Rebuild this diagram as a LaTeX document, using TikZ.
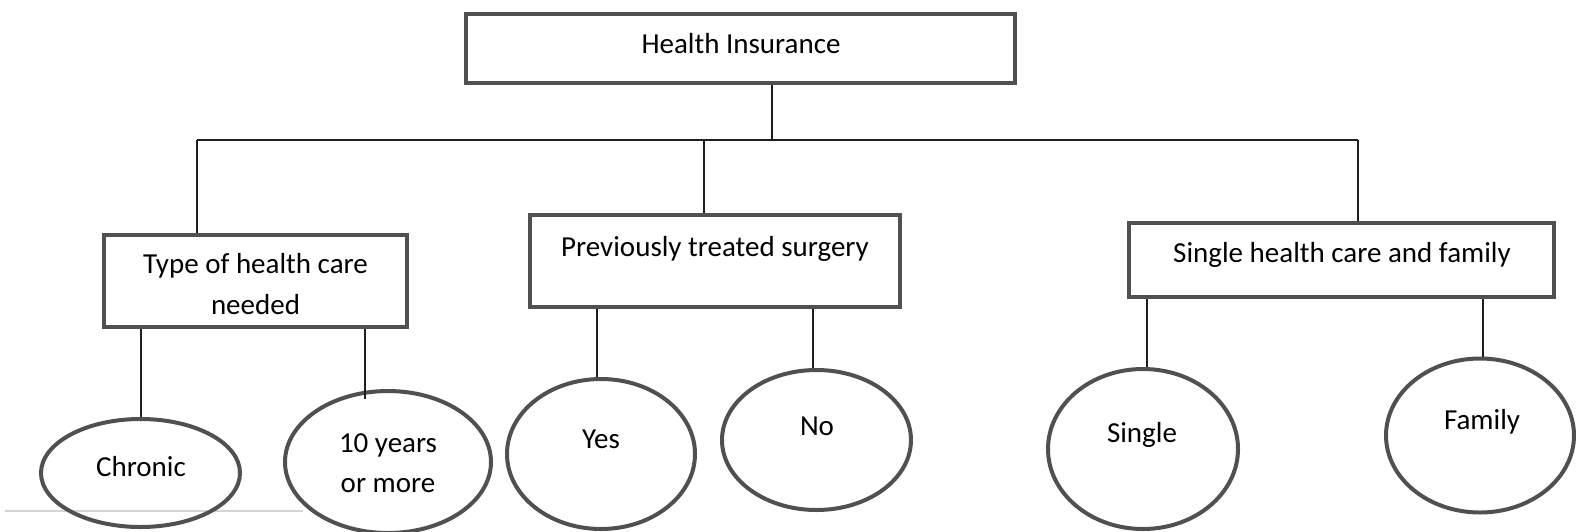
\documentclass[tikz,border=0pt]{standalone}
\usepackage{fontspec}
\setmainfont{Carlito}
\usetikzlibrary{shapes.geometric}
\definecolor{edgegray}{HTML}{505050}
\definecolor{rulegray}{HTML}{D4D4D4}
\definecolor{linkblack}{HTML}{1E1E1E}
\begin{document}
\begin{tikzpicture}[x=1pt,y=1pt,
  box/.style={draw=edgegray, line width=4pt, rectangle, inner sep=0pt},
  oval/.style={draw=edgegray, line width=4pt, ellipse, inner sep=0pt},
  lbl/.style={font=\fontsize{29}{35}\selectfont, inner sep=0pt, anchor=base},
  link/.style={draw=linkblack, line width=1.5pt}]
\useasboundingbox (0,0) rectangle (1576,-531);

% faint rule at the bottom left
\coordinate (ra) at (5,-511);
\coordinate (rb) at (303,-511);
\draw[rulegray, line width=1.2pt] (ra) -- (rb);

% boxes
\node[box, minimum width=549, minimum height=69] (top) at (740.5,-48.5) {};
\node[box, minimum width=303, minimum height=92] (b1) at (255.5,-281) {};
\node[box, minimum width=370, minimum height=92] (b2) at (715,-261) {};
\node[box, minimum width=425, minimum height=74] (b3) at (1341.5,-260) {};

% ovals
\node[oval, minimum width=199, minimum height=108] (c1) at (140.5,-473) {};
\node[oval, minimum width=206, minimum height=142] (c2) at (388,-462) {};
\node[oval, minimum width=188, minimum height=150] (c3) at (601,-454) {};
\node[oval, minimum width=189, minimum height=140] (c4) at (816.5,-440) {};
\node[oval, minimum width=190, minimum height=160] (c5) at (1143,-449) {};
\node[oval, minimum width=188, minimum height=154] (c6) at (1480,-435.5) {};

% labels
\node[lbl] (t0) at (741,-53) {Health Insurance};
\node[lbl] (t1a) at (255.5,-273) {Type of health care};
\node[lbl] (t1b) at (255.5,-314) {needed};
\node[lbl] (t2) at (715,-256) {Previously treated surgery};
\node[lbl] (t3) at (1342,-262) {Single health care and family};
\node[lbl] (l1) at (141,-476) {Chronic};
\node[lbl] (l2a) at (388,-452) {10 years};
\node[lbl] (l2b) at (388,-492) {or more};
\node[lbl] (l3) at (601,-448) {Yes};
\node[lbl] (l4) at (817,-435) {No};
\node[lbl] (l5) at (1142,-442) {Single};
\node[lbl] (l6) at (1482,-429) {Family};

% bus from the top box
\coordinate (j0) at (772,-140);
\coordinate (jl) at (197,-140);
\coordinate (jm) at (704,-140);
\coordinate (jr) at (1358,-140);
\draw[link] (top.south -| j0) -- (j0);
\draw[link] (jl) -- (jr);
\draw[link] (jl) -- (b1.north -| jl);
\draw[link] (jm) -- (b2.north -| jm);
\draw[link] (jr) -- (b3.north -| jr);

% stems to the ovals
\coordinate (e1) at (141,-417);
\coordinate (e2) at (365,-399);
\coordinate (e3) at (597,-377);
\coordinate (e4) at (813,-368);
\coordinate (e5) at (1147,-367);
\coordinate (e6) at (1483,-357);
\draw[link] (b1.south -| e1) -- (e1);
\draw[link] (b1.south -| e2) -- (e2);
\draw[link] (b2.south -| e3) -- (e3);
\draw[link] (b2.south -| e4) -- (e4);
\draw[link] (b3.south -| e5) -- (e5);
\draw[link] (b3.south -| e6) -- (e6);
\end{tikzpicture}
\end{document}
